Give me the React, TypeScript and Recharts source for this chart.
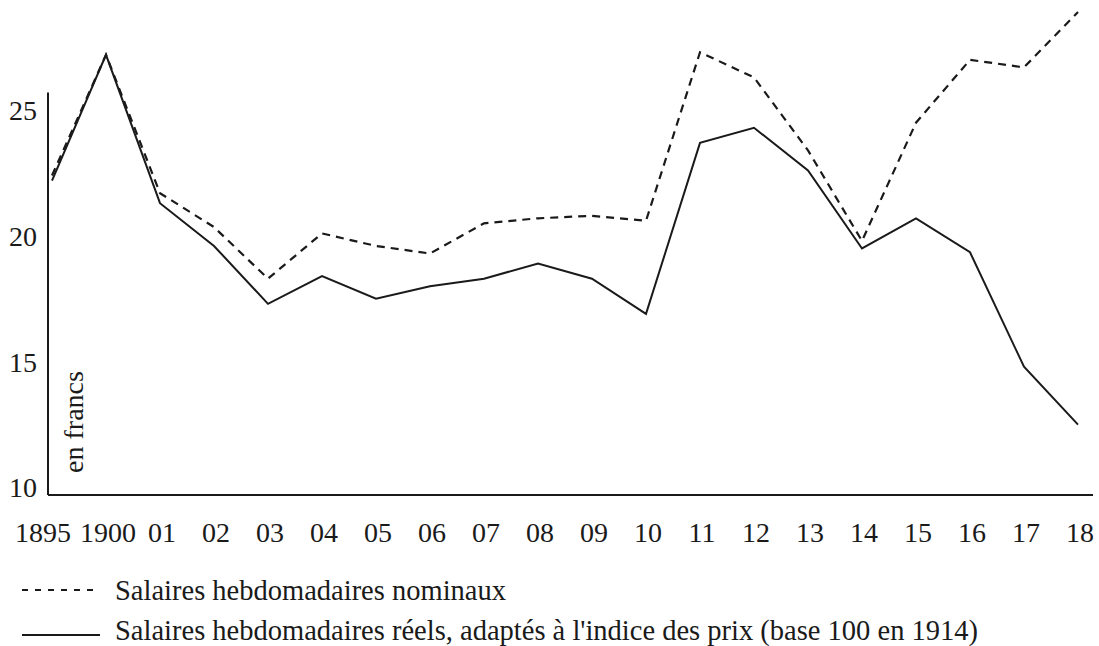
import { Line, LineChart, ReferenceLine, XAxis, YAxis } from "recharts";

// weekly wages, in francs
const years = ["1895", "1900", "01", "02", "03", "04", "05", "06", "07", "08", "09", "10", "11", "12", "13", "14", "15", "16", "17", "18"];
const nominalWages = [22.4, 27.2, 21.7, 20.35, 18.3, 20.1, 19.6, 19.3, 20.5, 20.7, 20.8, 20.6, 27.3, 26.3, 23.4, 19.8, 24.5, 27.0, 26.7, 28.9];
const realWages = [22.2, 27.2, 21.3, 19.6, 17.3, 18.4, 17.5, 18.0, 18.3, 18.9, 18.3, 16.9, 23.7, 24.3, 22.6, 19.5, 20.7, 19.35, 14.8, 12.5];
const yTicks = [10, 15, 20, 25];

const nominalLabel = "Salaires hebdomadaires nominaux";
const realLabel = "Salaires hebdomadaires réels, adaptés à l'indice des prix (base 100 en 1914)";
const unitLabel = "en francs";

const INK = "#1a1a1a";
const FONT = '"Liberation Serif", "Times New Roman", serif';

const data = years.map((year, i) => ({
  year,
  nominal: nominalWages[i],
  real: realWages[i],
}));

// the first year label sits a bit left of its point in the print, so it
// doesn't run into "1900"
function YearTick(props: any) {
  const { x, y, payload, index } = props;
  const shift = index === 0 ? -9 : 2;
  return (
    <text x={x + shift} y={y} dy={20} textAnchor="middle" fill={INK} fontSize={28} fontFamily={FONT}>
      {payload.value}
    </text>
  );
}

function LegendRow({ dashed, text, top }: { dashed: boolean; text: string; top: number }) {
  return (
    <div style={{ position: "absolute", left: 22, top, height: 40, display: "flex", alignItems: "center" }}>
      <svg width={80} height={40} style={{ marginRight: 13 }}>
        <line
          x1={0}
          x2={78}
          y1={dashed ? 19 : 24}
          y2={dashed ? 19 : 24}
          stroke={INK}
          strokeWidth={2}
          strokeDasharray={dashed ? "6 7" : undefined}
        />
      </svg>
      <span style={{ fontSize: 28.5, lineHeight: "40px", whiteSpace: "nowrap" }}>{text}</span>
    </div>
  );
}

export default function App() {
  return (
    <div
      style={{
        position: "absolute",
        left: 0,
        top: 0,
        width: 1099,
        height: 646,
        background: "#fff",
        fontFamily: FONT,
        color: INK,
      }}
    >
      <LineChart width={1099} height={560} data={data} margin={{ top: 7, right: 6, bottom: 5, left: 0 }}>
        <XAxis
          dataKey="year"
          type="category"
          padding={{ left: 4, right: 15 }}
          height={60}
          tickLine={false}
          tickSize={6}
          tickMargin={21}
          axisLine={{ stroke: INK, strokeWidth: 2 }}
          tick={<YearTick />}
          interval={0}
        />
        <XAxis xAxisId="frame" type="number" domain={[0, 1]} hide />
        <YAxis
          type="number"
          domain={[9.7, 29.1]}
          ticks={yTicks}
          allowDataOverflow
          width={48}
          axisLine={false}
          tickLine={false}
          tickSize={6}
          tickMargin={5}
          tick={{ fill: INK, fontSize: 28, fontFamily: FONT }}
        />
        <ReferenceLine
          xAxisId="frame"
          segment={[
            { x: 0, y: 9.7 },
            { x: 0, y: 25.7 },
          ]}
          stroke={INK}
          strokeWidth={2}
          ifOverflow="visible"
        />
        <Line
          type="linear"
          dataKey="nominal"
          stroke={INK}
          strokeWidth={2.2}
          strokeDasharray="8 6"
          dot={false}
          isAnimationActive={false}
        />
        <Line
          type="linear"
          dataKey="real"
          stroke={INK}
          strokeWidth={2}
          dot={false}
          isAnimationActive={false}
        />
      </LineChart>

      <div
        style={{
          position: "absolute",
          left: -26,
          top: 407,
          width: 200,
          height: 30,
          lineHeight: "30px",
          fontSize: 28,
          textAlign: "center",
          transform: "rotate(-90deg)",
          whiteSpace: "nowrap",
        }}
      >
        {unitLabel}
      </div>

      <LegendRow dashed text={nominalLabel} top={571} />
      <LegendRow dashed={false} text={realLabel} top={611} />
    </div>
  );
}
